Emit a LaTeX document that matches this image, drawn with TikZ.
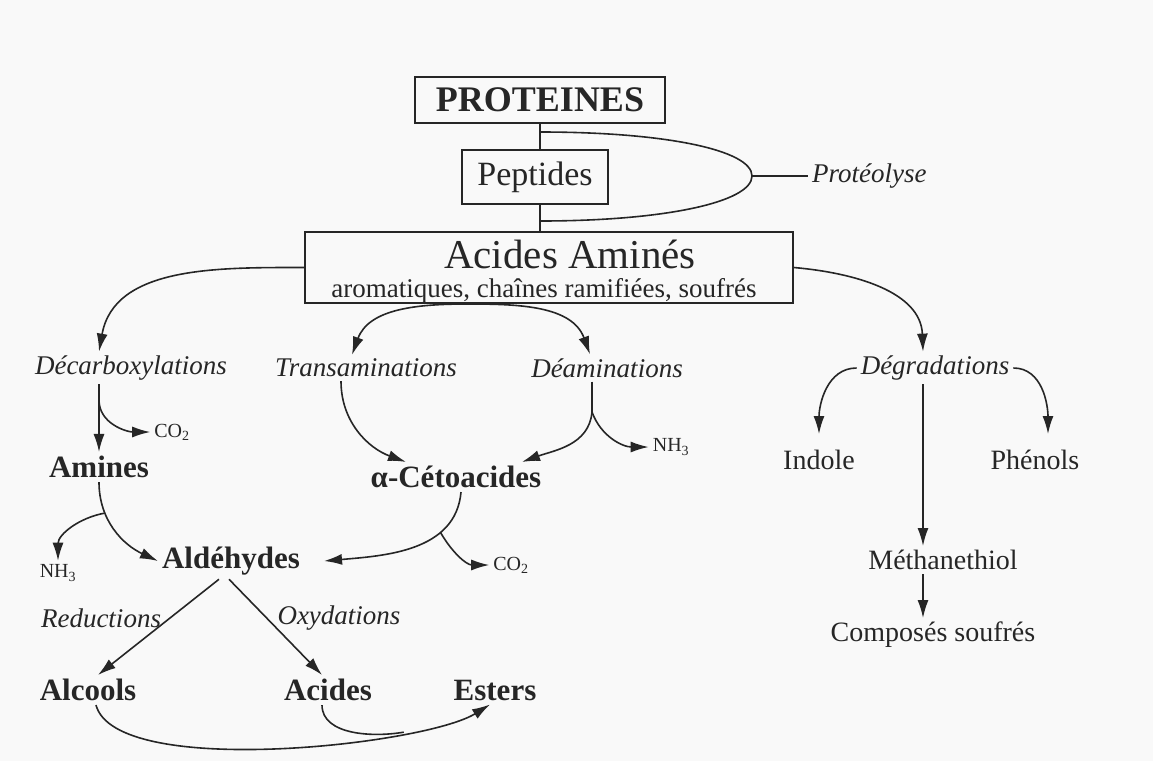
\documentclass[tikz,border=0pt]{standalone}
\usepackage{fontspec}
\setmainfont{Liberation Serif}
\usetikzlibrary{arrows.meta,positioning}

\begin{document}
\begin{tikzpicture}[x=1pt, y=1pt, line width=1.6pt, color=black!85, >={Latex[length=18pt,width=11pt]},
    box/.style = {draw, inner sep=0pt},
    bigprod/.style = {font=\fontsize{31}{31}\selectfont\bfseries},
    prod/.style = {font=\fontsize{28}{28}\selectfont},
    proc/.style = {font=\fontsize{27}{27}\selectfont\itshape},
    gas/.style = {font=\fontsize{20}{20}\selectfont}]
    \fill[gray!5] (0,0) rectangle (1153,-761);
    \useasboundingbox (0,0) rectangle (1153,-761);
    % boxes
    \node[box, minimum width=250, minimum height=46, font=\fontsize{36}{36}\selectfont\bfseries] (prot) at (540,-100) {PROTEINES};
    \node[box, minimum width=146, minimum height=54, font=\fontsize{34}{34}\selectfont] (pep) at (535,-177) {Peptides};
    \node[box, minimum width=488, minimum height=71] (aa) at (549,-267.5) {};
    \node[anchor=base, inner sep=0pt, font=\fontsize{41}{41}\selectfont] (aatitle) at (570,-268) {Acides Aminés};
    \node[anchor=base, inner sep=0pt, font=\fontsize{27}{27}\selectfont] (aasub) at (544,-297) {aromatiques, chaînes ramifiées, soufrés};
    \draw (prot.south) -- (prot.south |- pep.north);
    \draw (pep.south -| prot.south) -- (aa.north -| prot.south);
    % proteolyse
    \coordinate (ptop) at (540,-132);
    \coordinate (pbot) at (540,-221);
    \coordinate (ptip) at (752,-176);
    \draw (ptop) .. controls (665,-132) and (752,-150) .. (ptip)
        .. controls (752,-202) and (665,-221) .. (pbot);
    \node[proc, anchor=west] (proteo) at (808,-176) {Protéolyse};
    \draw (ptip) -- (proteo);
    % pathways
    \node[proc] (decarb) at (131,-368) {Décarboxylations};
    \node[proc] (trans) at (366,-368) {Transaminations};
    \node[proc] (deam) at (607,-368) {Déaminations};
    \node[proc] (degr) at (935,-368) {Dégradations};
    \node[bigprod] (amines) at (99,-467) {Amines};
    \node[bigprod] (ceto) at (456,-477) {α-Cétoacides};
    \node[gas] (co2a) at (172,-432) {CO\textsubscript{2}};
    \node[gas] (nh3a) at (671,-447) {NH\textsubscript{3}};
    \node[prod] (indole) at (819,-460) {Indole};
    \node[prod] (phenols) at (1035,-460) {Phénols};
    \node[bigprod] (aldeh) at (231,-561) {Aldéhydes};
    \node[gas] (nh3b) at (58,-573) {NH\textsubscript{3}};
    \node[gas] (co2b) at (511,-565) {CO\textsubscript{2}};
    \node[proc] (reduc) at (101,-618) {Reductions};
    \node[proc] (oxyd) at (339,-618) {Oxydations};
    \node[bigprod] (alcools) at (88,-690) {Alcools};
    \node[bigprod] (acides) at (328,-690) {Acides};
    \node[bigprod] (esters) at (495,-690) {Esters};
    \node[prod] (methan) at (943,-560) {Méthanethiol};
    \node[prod] (compos) at (933,-635) {Composés soufrés};
    % from the amino acids
    \coordinate (aafork) at (468,-304);
    \draw[->] (aa.west) to[out=180,in=80] (decarb.north -| amines);
    \draw[->] (aafork) to[out=180,in=70] ([xshift=-14pt]trans.north);
    \draw[->] (aafork) to[out=0,in=110] ([xshift=-17pt]deam.north);
    \draw[->] (aa.east) to[out=-5,in=92] ([xshift=-12pt]degr.north);
    % decarboxylation
    \draw[->] (decarb.south -| amines) -- coordinate[pos=0.23] (fco2a) (amines.north);
    \draw[->] (fco2a) to[out=-90,in=180] (co2a.west);
    \draw[->] (amines.south) to[out=-90,in=155] coordinate[pos=0.3] (fnh3b) (aldeh.west);
    \draw[->] (fnh3b) to[out=190,in=90] (nh3b.north);
    % transamination, deamination
    \draw[->] ([xshift=-25pt]trans.south) to[out=-90,in=160] ([xshift=-50pt]ceto.north);
    \coordinate (fnh3a) at (592,-412);
    \draw (fnh3a |- deam.south) -- (fnh3a);
    \draw[->] (fnh3a) to[out=-95,in=20] ([xshift=66pt]ceto.north);
    \draw[->] (fnh3a) to[out=-70,in=180] (nh3a.west);
    \draw[->] ([xshift=5pt]ceto.south) to[out=-95,in=5] coordinate[pos=0.3] (fco2b) ([xshift=20pt]aldeh.east);
    \draw[->] (fco2b) to[out=-60,in=180] (co2b.west);
    % aldehydes
    \draw[->] ([xshift=-12pt]aldeh.south) -- ([xshift=10pt]alcools.north);
    \draw[->] ([xshift=-2pt]aldeh.south) -- ([xshift=-6pt]acides.north);
    \draw[->] ([xshift=8pt]alcools.south) to[out=-75,in=-148,looseness=0.5] coordinate[pos=0.75] (fester) ([xshift=-5pt]esters.south);
    \draw ([xshift=-6pt]acides.south) to[out=-90,in=190,looseness=0.9] (fester);
    % degradation
    \draw[->] (degr.west) to[out=180,in=90] ([yshift=12pt]indole.north);
    \draw[->] (degr.east) to[out=0,in=90] ([xshift=13pt,yshift=12pt]phenols.north);
    \draw[->] ([xshift=-12pt]degr.south) -- ([xshift=-12pt]degr.south |- methan.north);
    \draw[->] ([xshift=-20pt]methan.south) -- ([xshift=-20pt]methan.south |- compos.north);
\end{tikzpicture}
\end{document}
